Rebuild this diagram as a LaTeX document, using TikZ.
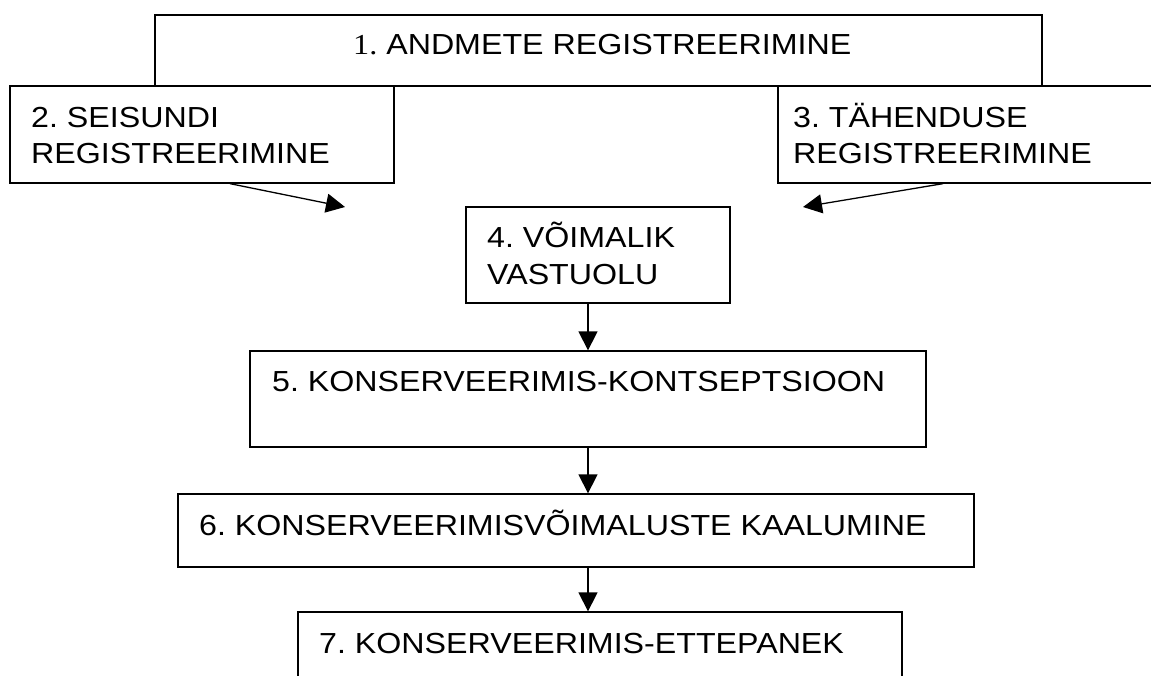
\documentclass[tikz,border=0pt]{standalone}
\usepackage{fontspec}
\setmainfont{Liberation Sans}[FakeStretch=1.11]
\newfontfamily\serifnum{Liberation Serif}[FakeStretch=1.11]
\usetikzlibrary{arrows.meta}
\frenchspacing
\begin{document}
\begin{tikzpicture}[x=1pt,y=-1pt,
  boxnode/.style={draw, line width=1.3pt, rectangle, inner sep=0pt, fill=white},
  txt/.style={inner sep=0pt, anchor=base west, font=\fontsize{29}{37}\selectfont\frenchspacing},
  arr/.style={line width=1.3pt, -{Triangle[length=19pt,width=19pt]}}]
\useasboundingbox (0,0) rectangle (1151,675);
\node[boxnode, minimum width=887pt, minimum height=71pt] (b1) at (598.5,50.5) {};
\node[boxnode, minimum width=384pt, minimum height=97pt] (b2) at (202,134.5) {};
\node[boxnode, minimum width=392pt, minimum height=97pt] (b3) at (974,134.5) {};
\node[boxnode, minimum width=264pt, minimum height=96pt] (b4) at (598,255) {};
\node[boxnode, minimum width=676pt, minimum height=96pt] (b5) at (588,399) {};
\node[boxnode, minimum width=796pt, minimum height=73pt] (b6) at (576,530.5) {};
\node[boxnode, minimum width=604pt, minimum height=88pt] (b7) at (600,656) {};

\node[txt] (t1) at (353,54) {{\serifnum 1.} ANDMETE REGISTREERIMINE};
\node[txt] (t2a) at (31,127) {2. SEISUNDI};
\node[txt] (t2b) at (31,163) {REGISTREERIMINE};
\node[txt] (t3a) at (793,127) {3. TÄHENDUSE};
\node[txt] (t3b) at (793,163) {REGISTREERIMINE};
\node[txt] (t4a) at (487,247) {4. VÕIMALIK};
\node[txt] (t4b) at (487,284) {VASTUOLU};
\node[txt] (t5) at (272,391) {5. KONSERVEERIMIS-KONTSEPTSIOON};
\node[txt] (t6) at (199,535) {6. KONSERVEERIMISVÕIMALUSTE KAALUMINE};
\node[txt] (t7) at (319,653) {7. KONSERVEERIMIS-ETTEPANEK};

\coordinate (e2) at (345,207);
\coordinate (e3) at (803,207);
\draw[arr] ([xshift=28pt]b2.south) -- (e2);
\draw[arr] ([xshift=-31pt]b3.south) -- (e3);
\draw[arr] (b5.north |- b4.south) -- (b5.north);
\draw[arr] (b5.south) -- (b5.south |- b6.north);
\draw[arr] (b5.south |- b6.south) -- (b5.south |- b7.north);
\end{tikzpicture}
\end{document}
